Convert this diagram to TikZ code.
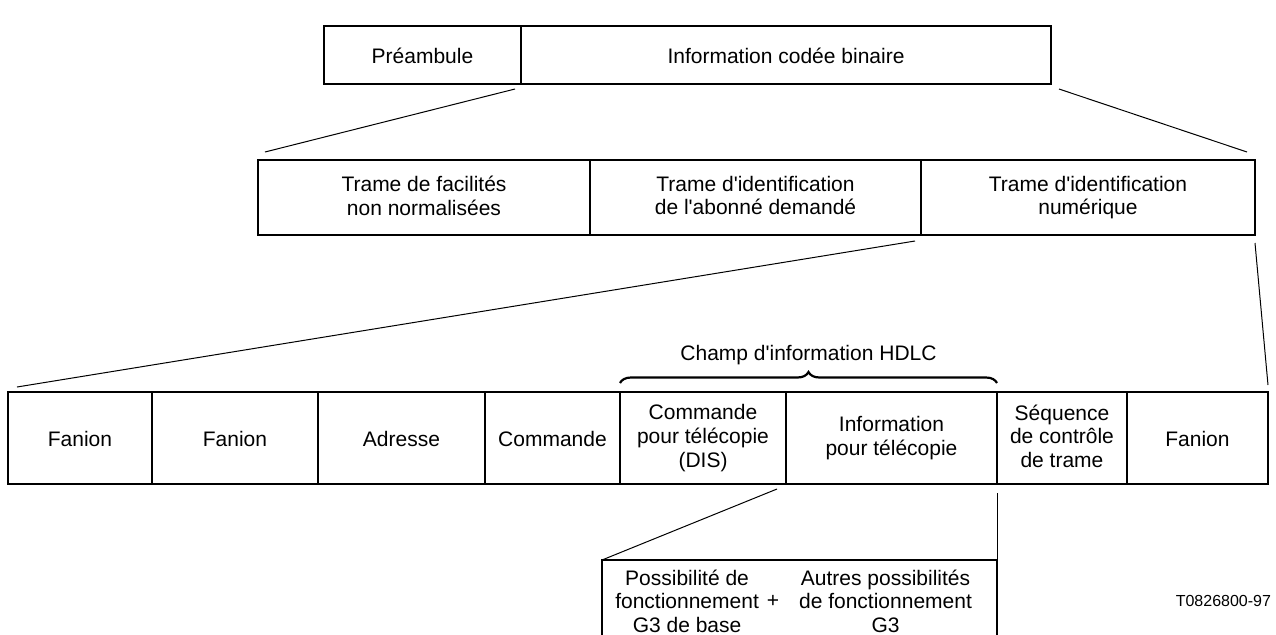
\documentclass[tikz,border=0pt]{standalone}
\usepackage{fontspec}
\setmainfont{Liberation Sans}
\usetikzlibrary{positioning, calc, decorations.pathreplacing}
\newcommand\fieldstrut{\rule[-2pt]{0pt}{12pt}}
\tikzset{
    framediagram/.style={x=0.5pt, y=-0.5pt, line width=0.6pt, font=\fontsize{10.5}{11.8}\selectfont, node distance=0pt},
    field/.style={draw, align=center, inner sep=0pt, outer sep=0pt,
        execute at begin node=\fieldstrut, execute at end node=\fieldstrut},
    fieldw/.style={minimum width=#1*0.5pt},
    plain/.style={align=center, inner sep=0pt, outer sep=0pt},
    link/.style={line width=0.5pt},
    % brace over the HDLC information field
    hdlcbrace/.style={decorate, decoration={brace, amplitude=5.5pt}, line width=1.1pt},
}

\begin{document}
\begin{tikzpicture}[framediagram]
    \useasboundingbox (0,0) rectangle (1276,634);

    % fax frame
    \node[field, fieldw=197, minimum height=29pt, anchor=north west] (pream) at (324,26) {Préambule};
    \node[field, fieldw=530, minimum height=29pt, right=of pream]     (binfo) {Information codée binaire};

    % binary coded information
    \node[field, fieldw=332, minimum height=37.5pt, anchor=north west] (nsf) at (258,160) {Trame de facilités\\non normalisées};
    \node[field, fieldw=331, minimum height=37.5pt, right=of nsf]      (csi) {Trame d\textquotesingle identification\\de l\textquotesingle abonné demandé};
    \node[field, fieldw=334, minimum height=37.5pt, right=of csi]      (dis) {Trame d\textquotesingle identification\\numérique};

    % HDLC frame
    \node[field, fieldw=144, minimum height=46pt, anchor=north west] (flag1) at (8,392) {Fanion};
    \node[field, fieldw=166, minimum height=46pt, right=of flag1]    (flag2) {Fanion};
    \node[field, fieldw=167, minimum height=46pt, right=of flag2]    (addr)  {Adresse};
    \node[field, fieldw=135, minimum height=46pt, right=of addr]     (ctrl)  {Commande};
    \node[field, fieldw=166, minimum height=46pt, right=of ctrl]     (fcf)   {Commande\\pour télécopie\\(DIS)};
    \node[field, fieldw=211, minimum height=46pt, right=of fcf]      (fif)   {Information\\pour télécopie};
    \node[field, fieldw=130, minimum height=46pt, right=of fif]      (fcs)   {Séquence\\de contrôle\\de trame};
    \node[field, fieldw=141, minimum height=46pt, right=of fcs]      (flag3) {Fanion};

    \draw[hdlcbrace] ($(fcf.north west)+(0,-9)$) -- ($(fif.north east)+(0,-9)$)
        node[plain, midway, above=9.3pt] (hdlc) {Champ d\textquotesingle information HDLC};

    % DIS capabilities, box open at the bottom
    \node[fieldw=395, minimum height=38pt, inner sep=0pt, outer sep=0pt, anchor=north west] (caps) at (602,560) {};
    \draw (caps.south west) |- (caps.north east) -- (caps.south east);
    \node[plain] (plus) at (773,601) {+};
    \node[plain, left=4pt of plus]   (basic) {Possibilité de\\fonctionnement\\G3 de base};
    \node[plain, right=10pt of plus] (other) {Autres possibilités\\de fonctionnement\\G3};

    \node[plain, font=\fontsize{8}{9.6}\selectfont, anchor=east] (figref) at (1271,601) {T0826800-97};

    % expansion lines
    \draw[link] ($(pream.south east)+(-6,5)$) -- ($(nsf.north west)+(7,-8)$);
    \draw[link] ($(binfo.south east)+(8,5)$) -- ($(dis.north east)+(-8,-8)$);
    \draw[link] ($(csi.south east)+(-6,6)$) -- ($(flag1.north west)+(9,-5)$);
    \draw[link] ($(dis.south east)+(0,8)$) -- ($(flag3.north east)+(0,-7)$);
    \draw[link] ($(fcf.south east)+(-9,5)$) -- (caps.north west);
    \draw[link] ($(fif.south east)+(0,9)$) -- (caps.north east);
\end{tikzpicture}
\end{document}
